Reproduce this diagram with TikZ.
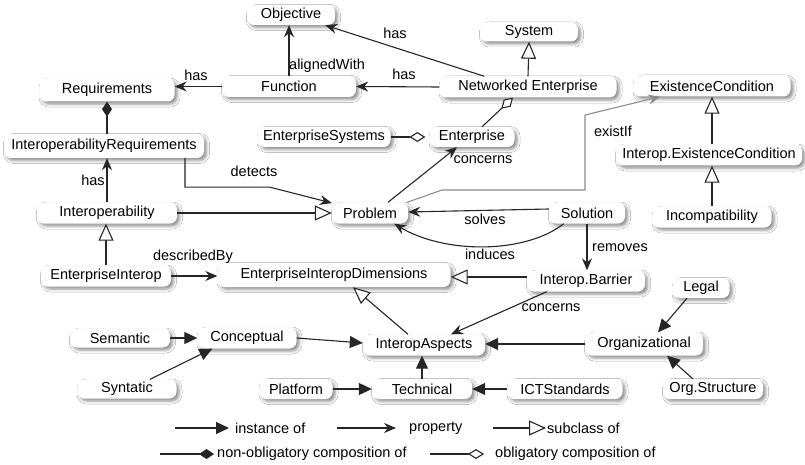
\documentclass[tikz,border=0pt]{standalone}
\usepackage{fontspec}
\setmainfont{Liberation Sans}
\usetikzlibrary{arrows.meta,calc,shadows.blur}

\begin{document}
\begin{tikzpicture}[x=1pt,y=-1pt,
  txt/.style={font=\fontsize{14.5}{16}\selectfont},
  cls/.style={txt, rounded corners=7pt, fill=white, inner sep=0pt, minimum height=21pt,
     blur shadow={shadow xshift=2.5pt, shadow yshift=-2.5pt, shadow blur radius=3pt, shadow opacity=45}},
  lbl/.style={txt, inner sep=0pt},
  edge/.style={line width=1.1pt, draw=black!85},
  prop/.style={edge, -{Stealth[length=12pt,width=10pt,inset=4pt]}},
  inst/.style={edge, -{Triangle[length=13pt,width=12pt]}},
  sub/.style={edge, -{Triangle[fill=white,length=17pt,width=15pt]}},
  ncomp/.style={edge, -{Diamond[length=15pt,width=10pt]}},
  ocomp/.style={edge, -{Diamond[fill=white,length=16pt,width=10pt]}},
  exist/.style={line width=1.1pt, draw=black!45, -{Stealth[length=12pt,width=10pt,inset=4pt]}},
]
\fill[white] (0,0) rectangle (805,465);
\useasboundingbox (0,0) rectangle (805,465);

% classes
\node[cls, minimum width=88pt, minimum height=20pt] (Objective) at (291,15) {Objective};
\node[cls, minimum width=98pt, minimum height=19pt] (System) at (529,32) {System};
\node[cls, minimum width=134pt] (Function) at (289,86.5) {Function};
\node[cls, minimum width=177pt] (NetEnt) at (528,87) {Networked Enterprise};
\node[cls, minimum width=135pt, minimum height=23pt] (Requirements) at (107,90) {Requirements};
\node[cls, minimum width=157pt] (ExistCond) at (712,86) {ExistenceCondition};
\node[cls, minimum width=133pt, minimum height=20pt] (EntSys) at (324,137) {EnterpriseSystems};
\node[cls, minimum width=85pt, minimum height=20pt] (Enterprise) at (472,137) {Enterprise};
\node[cls, minimum width=200pt, minimum height=24pt] (InteropReq) at (104,146) {InteroperabilityRequirements};
\node[cls, minimum width=186pt] (IEC) at (709,155) {Interop.ExistenceCondition};
\node[cls, minimum width=140pt] (Interoperability) at (107,213) {Interoperability};
\node[cls, minimum width=76pt] (Problem) at (370,213) {Problem};
\node[cls, minimum width=76pt] (Solution) at (587,213) {Solution};
\node[cls, minimum width=119pt] (Incompat) at (712,217) {Incompatibility};
\node[cls, minimum width=130pt] (EntInterop) at (106,276) {EnterpriseInterop};
\node[cls, minimum width=233pt, minimum height=24pt] (EIDims) at (334,275) {EnterpriseInteropDimensions};
\node[cls, minimum width=118pt] (Barrier) at (586,281) {Interop.Barrier};
\node[cls, minimum width=57pt, minimum height=20pt] (Legal) at (701,288) {Legal};
\node[cls, minimum width=100pt, minimum height=19pt] (Semantic) at (120,338) {Semantic};
\node[cls, minimum width=99pt] (Conceptual) at (247,338) {Conceptual};
\node[cls, minimum width=122pt] (InteropAspects) at (424,345) {InteropAspects};
\node[cls, minimum width=118pt, minimum height=23pt] (Organizational) at (644,344) {Organizational};
\node[cls, minimum width=99pt, minimum height=19pt] (Syntatic) at (127,389) {Syntatic};
\node[cls, minimum width=73pt, minimum height=20pt] (Platform) at (296,389) {Platform};
\node[cls, minimum width=100pt, minimum height=20pt] (Technical) at (422,389) {Technical};
\node[cls, minimum width=115pt, minimum height=20pt] (ICT) at (565,389) {ICTStandards};
\node[cls, minimum width=100pt, minimum height=20pt] (OrgStruct) at (713,389) {Org.Structure};

% bends of the existIf connector
\coordinate (ex1) at (442,190);
\coordinate (ex2) at (585,190);
\coordinate (ex3) at (585,115);

% properties
\draw[prop] (Function.north) -- (Function.north |- Objective.south);
\draw[prop] (NetEnt.west) -- (Function.east);
\draw[prop] (Function.west) -- (Requirements.east |- Function.west);
\draw[prop] ($(NetEnt.north west)+(45,0)$) -- ($(Objective.south east)+(-10,0)$);
\draw[prop] ($(InteropReq.south)+(81,0)$) -- ++(0,29) -- ++(85,0) -- ($(Problem.west)+(0,-10)$);
\draw[prop] (Interoperability.north) -- (Interoperability.north |- InteropReq.south);
\draw[prop] (EntInterop.east) -- (EntInterop.east -| EIDims.west);
\draw[prop] ($(Problem.north)+(18,0)$) -- ($(Enterprise.south)+(-15,0)$);
\draw[exist] ($(Problem.north east)+(-1,0)$) -- (ex1) -- (ex2) -- (ex3) -- ($(ExistCond.south west)+(27,0)$);
\draw[prop] ($(Solution.west)+(0,-4)$) -- ($(Problem.east)+(0,-1)$);
\draw[prop] ($(Solution.south west)+(15,0)$) .. controls (525,254) and (445,254) .. ($(Problem.south east)+(-14,0)$);
\draw[prop] (Solution.south) -- (Solution.south |- Barrier.north);
\draw[prop] ($(Barrier.south west)+(20,0)$) -- ($(InteropAspects.north)+(27,0)$);

% subclasses
\draw[sub] (NetEnt.north) -- (System.south);
\draw[sub] (Interoperability.east) -- (Problem.west);
\draw[sub] (EntInterop.north) -- (EntInterop.north |- Interoperability.south);
\draw[sub] ($(Barrier.west)+(0,-4)$) -- ($(EIDims.east)+(0,2)$);
\draw[sub] ($(InteropAspects.north)+(-16,0)$) -- ($(EIDims.south)+(19,0)$);
\draw[sub] (Incompat.north) -- (Incompat.north |- IEC.south);
\draw[sub] (ExistCond.south |- IEC.north) -- (ExistCond.south);

% compositions
\draw[ncomp] (InteropReq.north -| Requirements.south) -- (Requirements.south);
\draw[ocomp] ($(Enterprise.north)+(10,0)$) -- ($(NetEnt.south)+(-15,0)$);
\draw[ocomp, shorten >=4pt] (EntSys.east) -- (Enterprise.west);

% instances
\draw[inst] (Semantic.east) -- (Semantic.east -| Conceptual.west);
\draw[inst] ($(Syntatic.north)+(23,0)$) -- ($(Conceptual.south west)+(15,0)$);
\draw[inst] (Conceptual.east) -- ($(InteropAspects.west)+(0,-2)$);
\draw[inst] (Organizational.west) -- (Organizational.west -| InteropAspects.east);
\draw[inst] (Technical.north) -- (Technical.north |- InteropAspects.south);
\draw[inst] (Platform.east) -- (Technical.west);
\draw[inst] (ICT.west) -- (Technical.east);
\draw[inst] ($(Legal.south)+(-14,0)$) -- ($(Organizational.north)+(14,0)$);
\draw[inst] ($(OrgStruct.north west)+(30,0)$) -- ($(Organizational.south)+(23,0)$);

% connector labels
\node[lbl, anchor=west] (lAligned) at (289,66) {alignedWith};
\node[lbl] (lHasFn) at (404,74) {has};
\node[lbl] (lHasReq) at (196,75) {has};
\node[lbl] (lHasObj) at (395,33) {has};
\node[lbl] (lConcEnt) at (483,160) {concerns};
\node[lbl] (lExist) at (613,131) {existIf};
\node[lbl] (lDetects) at (254,171) {detects};
\node[lbl] (lHasIR) at (93,180) {has};
\node[lbl] (lSolves) at (485,219) {solves};
\node[lbl] (lInduces) at (490,254) {induces};
\node[lbl] (lRemoves) at (620,248) {removes};
\node[lbl] (lDescribed) at (193,257) {describedBy};
\node[lbl] (lConcAsp) at (551,308) {concerns};

% key
\coordinate (k1a) at (175,428); \coordinate (k1b) at (229,428);
\coordinate (k2a) at (337,428); \coordinate (k2b) at (396,428);
\coordinate (k3a) at (493,428); \coordinate (k3b) at (546,428);
\coordinate (k4a) at (160,454); \coordinate (k4b) at (214,454);
\coordinate (k5a) at (430,454); \coordinate (k5b) at (484,454);
\draw[inst] (k1a) -- (k1b);
\draw[prop] (k2a) -- (k2b);
\draw[sub] (k3a) -- (k3b);
\draw[ncomp] (k4a) -- (k4b);
\draw[ocomp] (k5a) -- (k5b);
\node[lbl, anchor=west] (kInst) at (235,428) {instance of};
\node[lbl, anchor=west] (kProp) at (409,428) {property};
\node[lbl, anchor=west] (kSub) at (547,428) {subclass of};
\node[lbl, anchor=west] (kNComp) at (217,454) {non-obligatory composition of};
\node[lbl, anchor=west] (kOComp) at (495,454) {obligatory composition of};
\end{tikzpicture}
\end{document}
